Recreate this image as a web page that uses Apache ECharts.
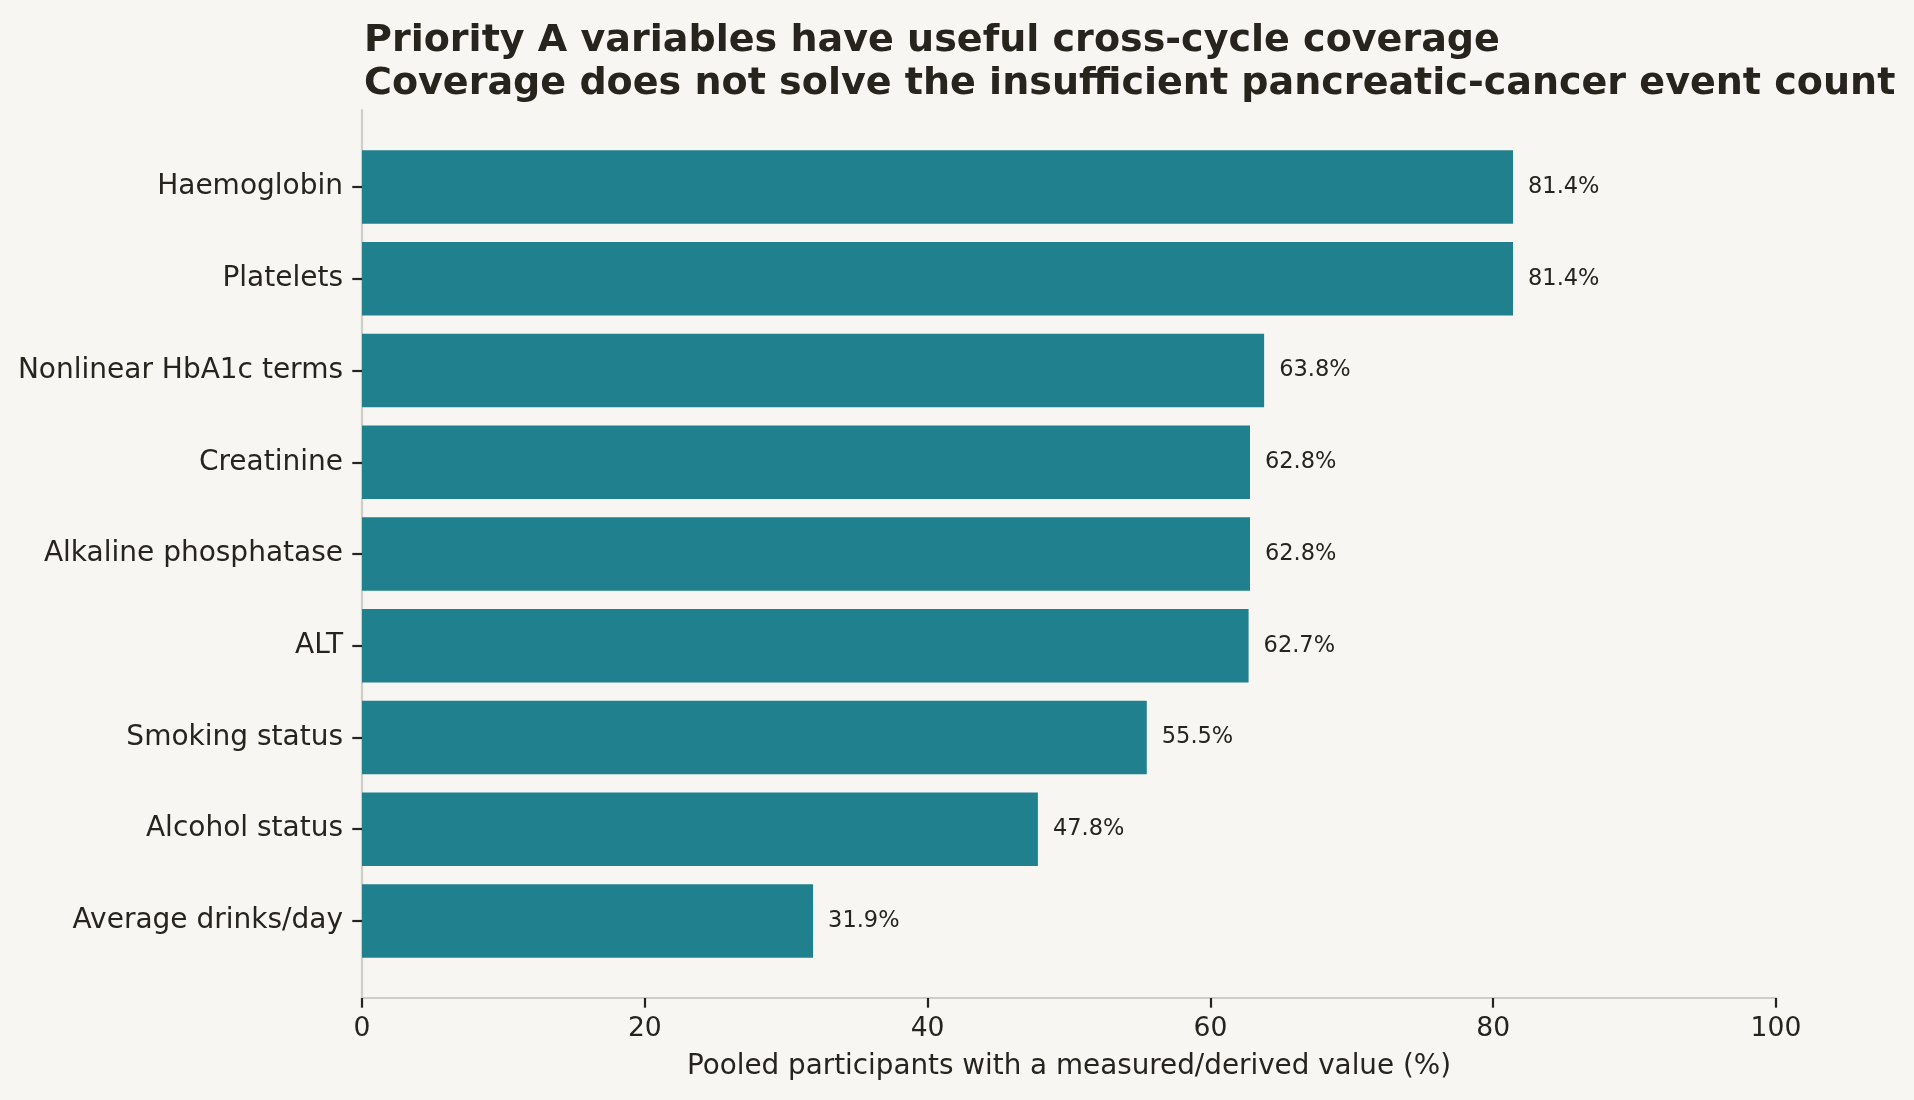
<!DOCTYPE html>
<html>
<head>
<meta charset="utf-8">
<script src="https://cdn.jsdelivr.net/npm/echarts@6/dist/echarts.min.js"></script>
<style>
html,body{margin:0;padding:0;background:#f7f6f2;}
#chart{width:1914px;height:1100px;}
</style>
</head>
<body>
<div id="chart"></div>
<script>
const categories = ["Haemoglobin","Platelets","Nonlinear HbA1c terms","Creatinine","Alkaline phosphatase","ALT","Smoking status","Alcohol status","Average drinks/day"];
const coverage = [81.4, 81.4, 63.8, 62.8, 62.8, 62.7, 55.5, 47.8, 31.9];
const xTicks = [0, 20, 40, 60, 80, 100];
const titleLines = ["Priority A variables have useful cross-cycle coverage","Coverage does not solve the insufficient pancreatic-cancer event count"];
const xAxisName = "Pooled participants with a measured/derived value (%)";

const FONT = "'DejaVu Sans', sans-serif";
const TEXT = "#26241d";
const SPINE = "#cfcdc7";
const BAR = "#21808d";

const chart = echarts.init(document.getElementById('chart'), null, {renderer:'canvas'});
const option = {
  backgroundColor: "#f7f6f2",
  animation: false,
  title: {
    text: titleLines.join("\n"),
    left: 359,
    top: 14,
    textStyle: {fontFamily: FONT, fontWeight: 'bold', fontSize: 38.05, lineHeight: 43.5, color: TEXT}
  },
  grid: [
    {left: 362, right: 138, top: 110, bottom: 102, containLabel: false},
    {left: 362, right: 138, top: 141.2, bottom: 133.2, containLabel: false}
  ],
  xAxis: [
    {
      type: 'value', gridIndex: 0, min: xTicks[0], max: xTicks[xTicks.length-1], interval: 20,
      axisLine: {show: true, lineStyle: {color: SPINE, width: 2.2}},
      axisTick: {show: true, length: 9.7, lineStyle: {color: TEXT, width: 2.2}},
      axisLabel: {fontFamily: FONT, fontSize: 26.6, color: TEXT, margin: 18},
      splitLine: {show: false},
      name: xAxisName, nameLocation: 'middle', nameGap: 55,
      nameTextStyle: {fontFamily: FONT, fontSize: 27.8, color: TEXT}
    },
    {type: 'value', gridIndex: 1, min: 0, max: 100, show: false}
  ],
  yAxis: [
    {
      type: 'value', gridIndex: 0, min: 0, max: 1,
      axisLine: {show: true, lineStyle: {color: SPINE, width: 2.2}},
      axisTick: {show: false}, axisLabel: {show: false}, splitLine: {show: false}
    },
    {
      type: 'category', gridIndex: 1, data: categories, inverse: true,
      axisLine: {show: false},
      axisTick: {show: true, alignWithLabel: true, length: 9.7, lineStyle: {color: TEXT, width: 2.2}},
      axisLabel: {fontFamily: FONT, fontSize: 28, color: TEXT, margin: 19, padding: [4, 0, 0, 0]},
      splitLine: {show: false}
    }
  ],
  series: [{
    type: 'bar', xAxisIndex: 1, yAxisIndex: 1,
    data: coverage, barWidth: '80%',
    itemStyle: {color: BAR},
    label: {
      show: true, position: 'right', distance: 15,
      fontFamily: FONT, fontSize: 22.5, color: TEXT,
      formatter: p => p.value.toFixed(1) + '%'
    }
  }]
};
chart.setOption(option);
</script>
</body>
</html>
